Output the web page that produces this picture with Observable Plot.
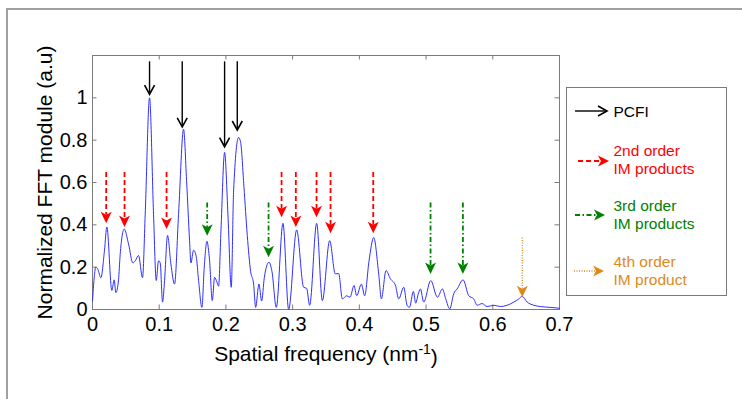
<!DOCTYPE html>
<html><head><meta charset="utf-8">
<script src="https://cdn.jsdelivr.net/npm/d3@7"></script>
<script src="https://cdn.jsdelivr.net/npm/@observablehq/plot@0.6"></script>
<style>
body{margin:0;background:#fff;width:742px;height:399px;overflow:hidden;position:relative;font-family:"Liberation Sans",Arial,sans-serif;}
#frame{position:absolute;left:6px;top:8px;width:800px;height:420px;border-top:2px solid #a0a0a0;border-left:2px solid #a0a0a0;}
#chart{position:absolute;left:0;top:0;}
#legend{position:absolute;left:566px;top:87px;width:159px;height:207px;border:1px solid #7a7a7a;background:#fff;}
#legend svg{display:block;overflow:visible;}
</style></head><body>
<div id="frame"></div><div id="chart"></div><div id="legend"></div>
<script>
// Spectrum (spatial frequency in nm^-1, normalized FFT module)
const freq = [0,0.005,0.008,0.0125,0.018,0.0215,0.029,0.0325,0.035,0.039,0.0415,0.0475,0.054,0.0605,0.064,0.069,0.075,0.079,0.0855,0.0915,0.0955,0.099,0.1015,0.105,0.108,0.1125,0.1175,0.123,0.129,0.1365,0.141,0.1455,0.1475,0.1515,0.1555,0.159,0.164,0.1675,0.1715,0.1755,0.1795,0.183,0.1865,0.189,0.1925,0.198,0.203,0.208,0.2115,0.219,0.222,0.227,0.232,0.237,0.2415,0.2445,0.2495,0.2535,0.2575,0.2645,0.269,0.2755,0.2855,0.294,0.306,0.3165,0.321,0.3255,0.336,0.3445,0.3555,0.364,0.369,0.3745,0.381,0.386,0.392,0.396,0.403,0.408,0.4145,0.4215,0.429,0.433,0.44,0.4465,0.454,0.459,0.4665,0.4715,0.475,0.481,0.4845,0.488,0.4915,0.4965,0.507,0.517,0.5245,0.5295,0.5355,0.5415,0.5465,0.5555,0.564,0.5715,0.5765,0.584,0.5915,0.6015,0.6115,0.6215,0.6315,0.639,0.644,0.6515,0.6615,0.6715,0.686,0.7];
const fftModule = [0.04,0.2,0.19,0.15,0.28,0.39,0.09,0.14,0.08,0.14,0.26,0.38,0.31,0.22,0.23,0.255,0.15,0.45,1.0,0.45,0.137,0.23,0.22,0.035,0.137,0.35,0.215,0.12,0.45,0.852,0.61,0.325,0.22,0.28,0.25,0.137,0.01,0.2,0.322,0.23,0.042,0.152,0.13,0.11,0.37,0.742,0.45,0.105,0.56,0.813,0.79,0.58,0.35,0.18,0.12,0.01,0.12,0.04,0.15,0.223,0.18,0.01,0.407,0.0,0.376,0.105,0.1,0.02,0.407,0.042,0.325,0.168,0.17,0.05,0.065,0.058,0.113,0.065,0.12,0.065,0.23,0.34,0.168,0.05,0.184,0.145,0.115,0.05,0.105,0.02,0.01,0.085,0.03,0.07,0.097,0.035,0.137,0.058,0.097,0.05,0.003,0.075,0.097,0.14,0.065,0.05,0.02,0.028,0.014,0.02,0.014,0.02,0.035,0.05,0.062,0.035,0.02,0.014,0.01,0.006];

// Annotation arrows: x position, top of shaft, tip value
const pcfiX = [0.0855,0.1345,0.198,0.217];
const pcfiTip = [1.017,0.863,0.769,0.848];
const pcfiTop = 1.17;
const im2X = [0.0205,0.048,0.111,0.2834,0.3048,0.3358,0.3568,0.4208];
const im2Tip = [0.407,0.39,0.38,0.436,0.39,0.436,0.36,0.36];
const im2Top = 0.647;
const im3X = [0.1719,0.2639,0.5067,0.5552];
const im3Tip = [0.349,0.247,0.168,0.168];
const im3Top = 0.503;
const im4X = [0.6442];
const im4Tip = [0.058];
const im4Top = 0.338;

const xTicks = [0,0.1,0.2,0.3,0.4,0.5,0.6,0.7];
const yTicks = [0,0.2,0.4,0.6,0.8,1];
const xLabel = "Spatial frequency (nm-1)";
const yLabel = "Normalized FFT module (a.u)";

const legendLabels = [["PCFI"],["2nd order","IM products"],["3rd order","IM products"],["4th order","IM product"]];
const groupColors = ["#000000","#ff0000","#008000","#e0891a"];
const groupDash = [null,"5,3","5,2.5,1.5,2.5","1,1.5"];

const series = freq.map((f,i)=>({f, v: fftModule[i]}));
const groups = [[pcfiX,pcfiTip,pcfiTop],[im2X,im2Tip,im2Top],[im3X,im3Tip,im3Top],[im4X,im4Tip,im4Top]];
const arrows = groups.flatMap(([xs,tips,top],g)=>xs.map((x,i)=>({g,x,top,tip:tips[i]})));

const headFilled = {draw(ctx){ctx.moveTo(0,0);ctx.lineTo(-5.5,-11.5);ctx.lineTo(0,-8.5);ctx.lineTo(5.5,-11.5);ctx.closePath();}};
const headOpen = {draw(ctx){ctx.moveTo(-5,-9);ctx.lineTo(0,0);ctx.lineTo(5,-9);}};

const W=742,H=399,mL=92,mR=183,mT=55,mB=90;
const fw=W-mL-mR, fh=H-mT-mB, tk=4.5, axisColor="#7a7a7a";

const marks = [
  Plot.tickX(xTicks,{x:d=>d,insetTop:fh-tk,stroke:axisColor}),
  Plot.tickX(xTicks,{x:d=>d,insetBottom:fh-tk,stroke:axisColor}),
  Plot.tickY(yTicks,{y:d=>d,insetRight:fw-tk,stroke:axisColor}),
  Plot.tickY(yTicks,{y:d=>d,insetLeft:fw-tk,stroke:axisColor}),
  Plot.frame({stroke:axisColor}),
  Plot.axisX({ticks:xTicks,tickSize:0,tickPadding:7,label:null,tickFormat:d=>String(d)}),
  Plot.axisY({ticks:yTicks,tickSize:0,tickPadding:5,label:null,tickFormat:d=>String(d)}),
  Plot.line(series,{x:"f",y:"v",stroke:"#2f2fff",strokeWidth:1,curve:"monotone-x"}),
];
groups.forEach((_,g)=>{
  const data = arrows.filter(a=>a.g===g);
  marks.push(Plot.ruleX(data,{x:"x",y1:"top",y2:"tip",stroke:groupColors[g],strokeWidth:g===0?1.4:(g===3?1.3:1.8),strokeDasharray:groupDash[g],insetBottom:g===0?1:8}));
  marks.push(g===0
    ? Plot.dot(data,{x:"x",y:"tip",symbol:headOpen,fill:"none",stroke:groupColors[g],strokeWidth:1.6})
    : Plot.dot(data,{x:"x",y:"tip",symbol:headFilled,fill:groupColors[g],stroke:"none"}));
});
marks.push(Plot.text([xLabel],{frameAnchor:"bottom",text:d=>d,lineAnchor:"bottom",dy:51,fontSize:21}));
marks.push(Plot.text([yLabel],{frameAnchor:"left",text:d=>d,rotate:-90,textAnchor:"middle",dx:-47,fontSize:21}));

const chart = Plot.plot({
  width:W,height:H,marginLeft:mL,marginRight:mR,marginTop:mT,marginBottom:mB,
  style:{background:"transparent",fontFamily:"Liberation Sans, Arial, sans-serif",fontSize:"20px",color:"#000",overflow:"visible"},
  x:{domain:[0,0.7]},y:{domain:[0,1.2]},
  marks
});
document.getElementById("chart").appendChild(chart);

// superscript in x label
d3.select(chart).selectAll("text").filter(function(){return this.textContent===xLabel;}).each(function(){
  const t=d3.select(this); const base = t.select("tspan").empty()? t : t.select("tspan");
  const parts = xLabel.match(/^(.*\(nm)(-1)(\))$/);
  base.text(parts[1]);
  base.append("tspan").attr("dy","-0.45em").attr("font-size","14px").text(parts[2]);
  base.append("tspan").attr("dy","0.45em").text(parts[3]);
});

// legend
const leg = d3.select("#legend").append("svg").attr("width",159).attr("height",207);
const arrowY=[23,73,127,183], textY=[[29],[68,86],[123,141],[179,197]], arrowX=[[8,40],[11,42],[8,38],[7,37]];
legendLabels.forEach((lines,g)=>{
  const [x1,x2]=arrowX[g], y=arrowY[g], c=groupColors[g];
  leg.append("line").attr("x1",x1).attr("x2",g===0?x2:x2-8).attr("y1",y).attr("y2",y).attr("stroke",c)
    .attr("stroke-width",g===0?1.4:(g===3?1.3:1.8)).attr("stroke-dasharray",groupDash[g]);
  const p=d3.path();
  if(g===0){p.moveTo(x2-9,y-5);p.lineTo(x2,y);p.lineTo(x2-9,y+5);
    leg.append("path").attr("d",p.toString()).attr("fill","none").attr("stroke",c).attr("stroke-width",1.6);}
  else{p.moveTo(x2,y);p.lineTo(x2-11,y-5.5);p.lineTo(x2-8,y);p.lineTo(x2-11,y+5.5);p.closePath();
    leg.append("path").attr("d",p.toString()).attr("fill",c);}
  lines.forEach((s,j)=>leg.append("text").attr("x",46.5).attr("y",textY[g][j]).attr("fill",c)
    .attr("font-size","15.5px").attr("font-family","Liberation Sans, Arial, sans-serif").text(s));
});
</script>
</body></html>
